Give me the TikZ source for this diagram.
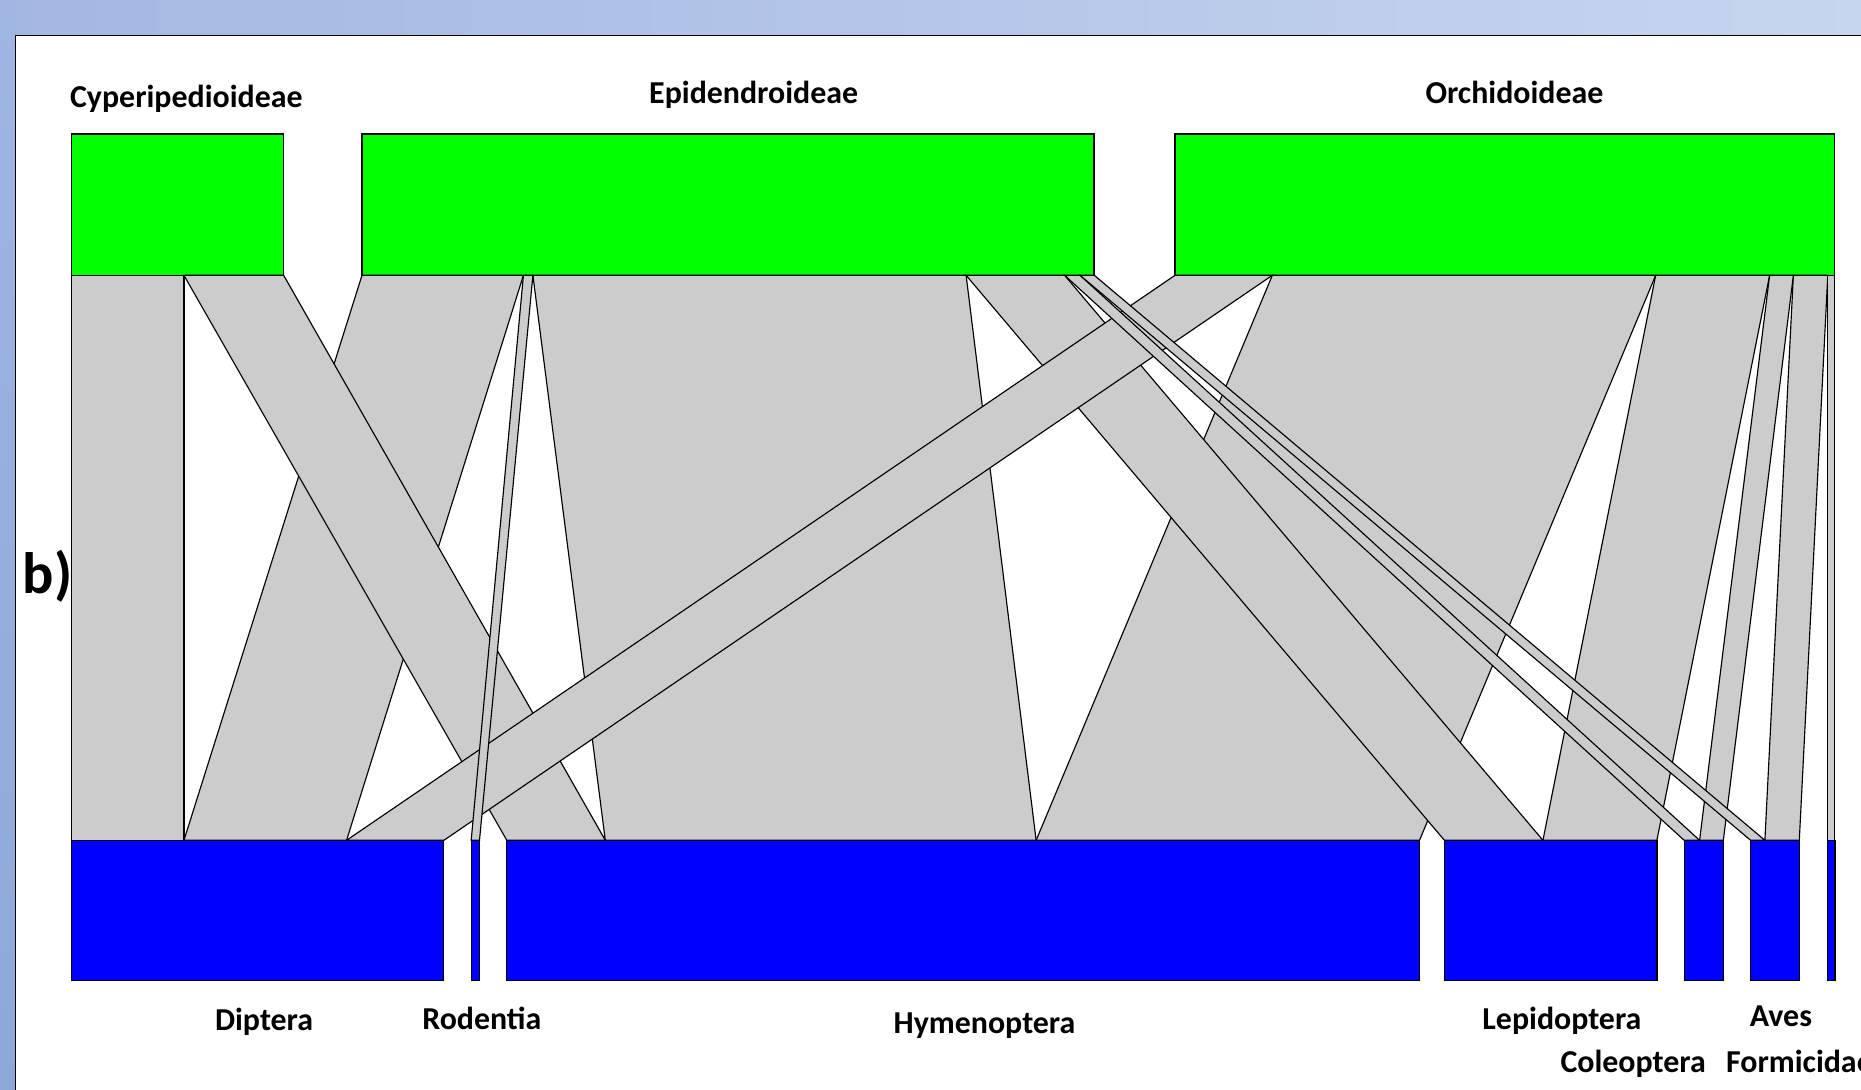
\documentclass[tikz,border=0pt]{standalone}
\usepackage{fontspec}
\setmainfont{Carlito}
\usetikzlibrary{calc}
\definecolor{plantgreen}{RGB}{0,255,0}
\definecolor{pollblue}{RGB}{0,0,255}
\definecolor{flowgray}{RGB}{204,204,204}
\definecolor{bgleft}{RGB}{163,183,227}
\definecolor{bgright}{RGB}{199,213,238}
\definecolor{striptop}{RGB}{160,181,226}
\definecolor{stripbot}{RGB}{140,168,219}
\tikzset{
  plantbox/.style={draw=black, fill=plantgreen, line width=0.65pt, inner sep=0pt, outer sep=0pt, minimum height=2.38cm, anchor=north west},
  pollbox/.style={draw=black, fill=pollblue, line width=0.65pt, inner sep=0pt, outer sep=0pt, minimum height=2.36cm, anchor=north west},
  flowstyle/.style={draw=black, fill=flowgray, line width=0.55pt, line join=miter},
  lbl/.style={inner sep=0pt, font=\fontsize{15.3}{18}\selectfont\bfseries, text=black},
}
\newcommand\flowband[6]{%
  \filldraw[flowstyle] ($(#1.south west)+(#2,0)$) -- ($(#1.south west)+(#3,0)$) --
    ($(#4.north west)+(#6,0)$) -- ($(#4.north west)+(#5,0)$) -- cycle;}
\begin{document}
\begin{tikzpicture}[x=0.02cm,y=-0.02cm]
\useasboundingbox (0,0) rectangle (1568,918);
\clip (0,0) rectangle (1568,918);
% background frame
\shade[left color=bgleft, right color=bgright] (0,0) rectangle (1568,918);
\shade[top color=striptop, bottom color=stripbot] (0,0) rectangle (13,918);
\fill[white] (13,30) rectangle (1568,918);
\draw[line width=0.8pt] (13,918) -- (13,30) -- (1568,30);
% upper boxes
\node[plantbox, minimum width=3.58cm]  (cyp)  at (60,113)  {};
\node[plantbox, minimum width=12.34cm] (epi)  at (305,113) {};
\node[plantbox, minimum width=11.12cm] (orch) at (990,113) {};
% lower boxes
\node[pollbox, minimum width=6.28cm]  (dip)  at (60,708)   {};
\node[pollbox, minimum width=0.14cm]  (rod)  at (397,708)  {};
\node[pollbox, minimum width=15.38cm] (hym)  at (427,708)  {};
\node[pollbox, minimum width=3.58cm]  (lep)  at (1217,708) {};
\node[pollbox, minimum width=0.66cm]  (col)  at (1419,708) {};
\node[pollbox, minimum width=0.82cm]  (aves) at (1475,708) {};
\node[pollbox, minimum width=0.12cm]  (form) at (1540,708) {};
% interaction bands, widest first
\flowband{epi}{144}{509}{hym}{83}{446}
\flowband{orch}{82}{405}{hym}{446}{769}
\flowband{epi}{0}{136}{dip}{95}{232}
\flowband{orch}{405}{501}{lep}{83}{179}
\flowband{cyp}{0}{95}{dip}{0}{95}
\flowband{cyp}{95}{179}{hym}{0}{83}
\flowband{epi}{509}{592}{lep}{0}{83}
\flowband{orch}{0}{82}{dip}{232}{314}
\flowband{orch}{521}{550}{aves}{12}{41}
\flowband{orch}{501}{521}{col}{13}{33}
\flowband{epi}{592}{605}{col}{0}{13}
\flowband{epi}{605}{617}{aves}{0}{12}
\flowband{epi}{136}{144}{rod}{0}{7}
\flowband{orch}{550}{556}{form}{0}{6}
% labels
\node[lbl, anchor=base] (tcyp)  at (157,91)  {Cyperipedioideae};
\node[lbl, anchor=base] (tepi)  at (635,87)  {Epidendroideae};
\node[lbl, anchor=base] (torch) at (1276,87) {Orchidoideae};
\node[lbl, anchor=base] (ldip)  at (222.5,868) {Diptera};
\node[lbl, anchor=base] (lrod)  at (406,867) {Rodentia};
\node[lbl, anchor=base] (lhym)  at (829.5,871) {Hymenoptera};
\node[lbl, anchor=base] (llep)  at (1316,867)  {Lepidoptera};
\node[lbl, anchor=base] (laves) at (1500.5,864.5) {Aves};
\node[lbl, anchor=base] (lcol)  at (1376,904) {Coleoptera};
\node[lbl, anchor=base west] (lform) at (1454,904) {Formicidae};
\node[inner sep=0pt, anchor=base west, font=\fontsize{28}{32}\selectfont\bfseries] (panel) at (19,500) {b)};
\end{tikzpicture}
\end{document}
